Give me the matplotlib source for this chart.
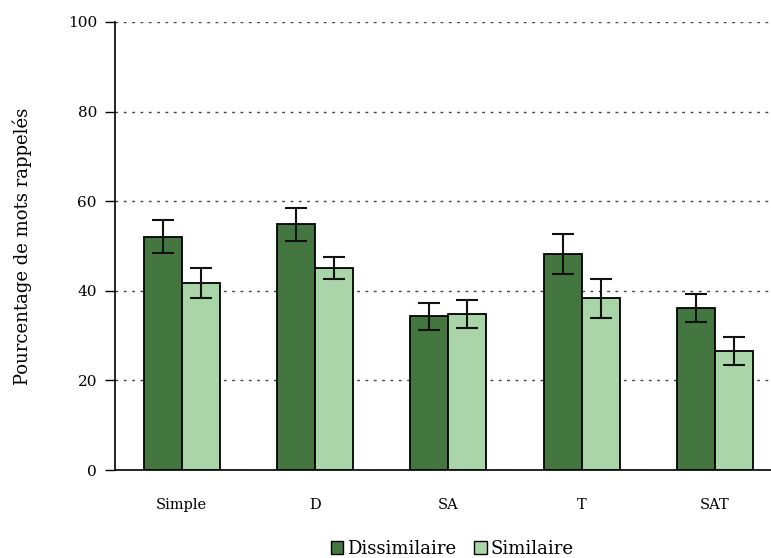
import matplotlib
matplotlib.use("Agg")
import matplotlib.pyplot as plt
import numpy as np
from matplotlib.patches import Patch

categories = ["Simple", "D", "SA", "T", "SAT"]
dissimilaire = [52.1, 54.8, 34.3, 48.2, 36.2]
dissimilaire_err = [3.7, 3.7, 3.0, 4.5, 3.1]
similaire = [41.8, 45.1, 34.8, 38.3, 26.6]
similaire_err = [3.3, 2.5, 3.1, 4.4, 3.1]
yticks = [0, 20, 40, 60, 80, 100]

plt.rcParams['font.family'] = ['DejaVu Serif']

fig = plt.figure(figsize=(7.71, 5.58), dpi=100)
ax = fig.add_axes([115/771, 1-470/558, 666.5/771, 448/558])

x = np.arange(len(categories))
w = 0.285
dark = "#43773f"
light = "#a9d5a9"
ekw = dict(elinewidth=1.5, capthick=1.5, ecolor="#111111")
ax.bar(x - w/2, dissimilaire, w, color=dark, edgecolor="black", linewidth=1.3,
       yerr=dissimilaire_err, capsize=8, error_kw=ekw, zorder=3)
ax.bar(x + w/2, similaire, w, color=light, edgecolor="black", linewidth=1.3,
       yerr=similaire_err, capsize=8, error_kw=ekw, zorder=3)

ax.set_xlim(-0.5, 4.5)
ax.set_ylim(0, 100)
ax.set_yticks(yticks)
ax.set_yticklabels([str(v) for v in yticks], fontsize=11)
ax.set_xticks(x)
ax.set_xticklabels(categories, fontsize=10.5)
ax.tick_params(axis='x', length=0, pad=20)
ax.tick_params(axis='y', length=7, width=1, pad=6, direction='out')
for s in ['top', 'right']:
    ax.spines[s].set_visible(False)
ax.spines['left'].set_linewidth(1.2)
ax.spines['bottom'].set_linewidth(1.2)
ax.yaxis.grid(True, linestyle=(0, (2, 4)), color="#444444", linewidth=1, zorder=0)
ax.set_axisbelow(True)

fig.text(22/771, 1-246/558, "Pourcentage de mots rappelés", rotation=90,
         ha='center', va='center', fontsize=13)

handles = [Patch(facecolor=dark, edgecolor="black", label="Dissimilaire"),
           Patch(facecolor=light, edgecolor="black", label="Similaire")]
fig.legend(handles=handles, loc='center', bbox_to_anchor=(452/771, 1-549/558),
           ncol=2, frameon=False, fontsize=13, handlelength=0.7, handleheight=0.7,
           handletextpad=0.2, columnspacing=1.0, borderaxespad=0)

fig.savefig("out.png", dpi=100)
